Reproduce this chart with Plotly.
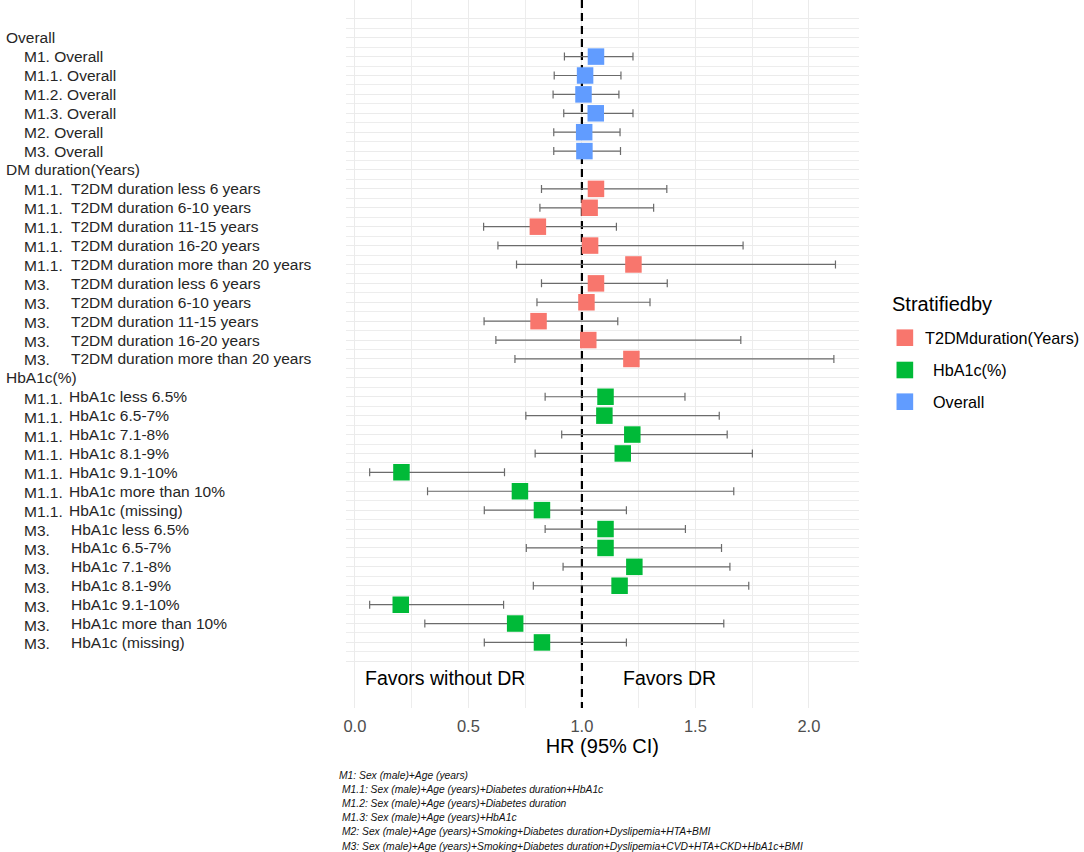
import plotly.graph_objects as go

W, H = 1084, 852

# ---------------- data ----------------
group_headers = ["Overall", "DM duration(Years)", "HbA1c(%)"]

overall_models = ["M1.", "M1.1.", "M1.2.", "M1.3.", "M2.", "M3."]
overall_names = ["Overall"] * 6
overall_hr = [1.062, 1.014, 1.007, 1.061, 1.010, 1.011]
overall_lo = [0.923, 0.878, 0.873, 0.920, 0.876, 0.876]
overall_hi = [1.225, 1.172, 1.163, 1.225, 1.168, 1.170]

duration_models = ["M1.1."] * 5 + ["M3."] * 5
duration_names = ["T2DM duration less 6 years", "T2DM duration 6-10 years",
                  "T2DM duration 11-15 years", "T2DM duration 16-20 years",
                  "T2DM duration more than 20 years"] * 2
duration_hr = [1.062, 1.034, 0.806, 1.036, 1.227, 1.062, 1.020, 0.809, 1.028, 1.218]
duration_lo = [0.822, 0.815, 0.567, 0.630, 0.712, 0.822, 0.802, 0.569, 0.621, 0.705]
duration_hi = [1.374, 1.316, 1.152, 1.710, 2.117, 1.376, 1.300, 1.158, 1.700, 2.110]

hba1c_models = ["M1.1."] * 7 + ["M3."] * 7
hba1c_names = ["HbA1c less 6.5%", "HbA1c 6.5-7%", "HbA1c 7.1-8%", "HbA1c 8.1-9%",
               "HbA1c 9.1-10%", "HbA1c more than 10%", "HbA1c (missing)"] * 2
hba1c_hr = [1.104, 1.099, 1.222, 1.180, 0.205, 0.727, 0.824,
            1.104, 1.104, 1.231, 1.166, 0.202, 0.706, 0.824]
hba1c_lo = [0.838, 0.753, 0.911, 0.794, 0.065, 0.320, 0.570,
            0.838, 0.755, 0.917, 0.786, 0.065, 0.308, 0.570]
hba1c_hi = [1.454, 1.605, 1.640, 1.751, 0.659, 1.669, 1.196,
            1.456, 1.615, 1.652, 1.735, 0.655, 1.625, 1.196]

reference_hr = 1.0
legend_names = ["T2DMduration(Years)", "HbA1c(%)", "Overall"]
legend_title = "Stratifiedby"
x_tickvals = [0.0, 0.5, 1.0, 1.5, 2.0]
x_ticktext = ["0.0", "0.5", "1.0", "1.5", "2.0"]
x_title = "HR (95% CI)"
favor_left = "Favors without DR"
favor_right = "Favors DR"
footnotes = [
    "M1: Sex (male)+Age (years)",
    "M1.1: Sex (male)+Age (years)+Diabetes duration+HbA1c",
    "M1.2: Sex (male)+Age (years)+Diabetes duration",
    "M1.3: Sex (male)+Age (years)+HbA1c",
    "M2: Sex (male)+Age (years)+Smoking+Diabetes duration+Dyslipemia+HTA+BMI",
    "M3: Sex (male)+Age (years)+Smoking+Diabetes duration+Dyslipemia+CVD+HTA+CKD+HbA1c+BMI",
]

# ---------------- styles ----------------
COL_DUR = "#F8766D"
COL_HBA = "#00BA38"
COL_OVR = "#619CFF"
FONT = "Liberation Sans, Arial, sans-serif"
LABEL_COL = "#262626"

# row layout (0 = top)
hdr_rows = [0, 1 + len(overall_hr), 2 + len(overall_hr) + len(duration_hr)]
overall_rows = [hdr_rows[0] + 1 + i for i in range(len(overall_hr))]
duration_rows = [hdr_rows[1] + 1 + i for i in range(len(duration_hr))]
hba1c_rows = [hdr_rows[2] + 1 + i for i in range(len(hba1c_hr))]
last_row = hba1c_rows[-1]

# pixel geometry
PX_L, PX_R, PX_T, PX_B = 344, 858, 0, 708
row_top = -1.995
row_bot = 35.47


def px(x):
    return x / W


def py(y):
    return 1 - y / H


fig = go.Figure()

# dashed reference line (drawn first: above the grid, below the squares)
fig.add_trace(go.Scatter(
    x=[reference_hr, reference_hr], y=[row_top, row_bot], mode="lines",
    line=dict(color="black", width=2.2, dash="8px,5px"),
    showlegend=False, hoverinfo="skip",
))


def add_group(hr, lo, hi, rows, color):
    fig.add_trace(go.Scatter(
        x=hr, y=rows, mode="markers",
        marker=dict(symbol="square", size=16.5, color=color, line=dict(width=0)),
        error_x=dict(type="data", symmetric=False,
                     array=[h - m for h, m in zip(hi, hr)],
                     arrayminus=[m - l for m, l in zip(hr, lo)],
                     color="#6b6b6b", thickness=1.2, width=4),
        showlegend=False, hoverinfo="x+y",
    ))


add_group(overall_hr, overall_lo, overall_hi, overall_rows, COL_OVR)
add_group(duration_hr, duration_lo, duration_hi, duration_rows, COL_DUR)
add_group(hba1c_hr, hba1c_lo, hba1c_hi, hba1c_rows, COL_HBA)

# axes
fig.update_xaxes(
    domain=[px(PX_L), px(PX_R)], range=[-0.039, 2.219],
    tickmode="array", tickvals=x_tickvals, ticktext=x_ticktext,
    tickfont=dict(family=FONT, size=16.5, color="#4D4D4D"),
    showgrid=True, gridcolor="#EBEBEB", gridwidth=1.3,
    minor=dict(tickmode="array", tickvals=[0.25, 0.75, 1.25, 1.75],
               showgrid=True, gridcolor="#EDEDED", gridwidth=1.1, ticklen=0),
    zeroline=False, showline=False, ticks="", ticklabelstandoff=6,
    title=dict(text=x_title, font=dict(family=FONT, size=20, color="black"), standoff=4),
)
fig.update_yaxes(
    domain=[py(PX_B), py(PX_T)], range=[row_bot, row_top],
    tickmode="array", tickvals=list(range(-1, last_row + 2)),
    showticklabels=False,
    showgrid=True, gridcolor="#EBEBEB", gridwidth=1.3,
    minor=dict(tickmode="array", tickvals=[r + 0.5 for r in range(-1, last_row + 1)],
               showgrid=True, gridcolor="#EDEDED", gridwidth=1.1, ticklen=0),
    zeroline=False, showline=False, ticks="",
)

shapes = []
# small gap in the lowest gridline, as in the reference
shapes.append(dict(type="line", xref="x", yref="y", x0=1.722, x1=2.148,
                   y0=last_row + 1, y1=last_row + 1,
                   line=dict(color="white", width=2), layer="below"))

annotations = []


def label(x_px, row, text, yshift=0):
    annotations.append(dict(xref="paper", yref="y", x=px(x_px), y=row, text=text,
                            xanchor="left", yanchor="middle", showarrow=False,
                            yshift=yshift,
                            font=dict(family=FONT, size=15.5, color=LABEL_COL)))


for r, t in zip(hdr_rows, group_headers):
    label(1, r, t)
for r, m, n in zip(overall_rows, overall_models, overall_names):
    label(19, r, f"{m} {n}")
for r, m, n in zip(duration_rows, duration_models, duration_names):
    label(19, r, m, yshift=-1)
    label(66, r, n)
for r, m, n in zip(hba1c_rows, hba1c_models, hba1c_names):
    label(19, r, m, yshift=-1.5)
    label(64 if m == "M1.1." else 66, r, n)

# favour texts
for x_px, t in [(361.5, favor_left), (620, favor_right)]:
    annotations.append(dict(xref="paper", yref="paper", x=px(x_px), y=py(678), text=t,
                            xanchor="left", yanchor="middle", showarrow=False,
                            font=dict(family=FONT, size=19.5, color="black")))

# legend (manual)
annotations.append(dict(xref="paper", yref="paper", x=px(889), y=py(304), text=legend_title,
                        xanchor="left", yanchor="middle", showarrow=False,
                        font=dict(family=FONT, size=20, color="black")))
leg_y = [337.7, 370.0, 401.7]
leg_txt_x = [923, 931, 931]
for name, col, yc, tx in zip(legend_names, [COL_DUR, COL_HBA, COL_OVR], leg_y, leg_txt_x):
    shapes.append(dict(type="rect", xref="paper", yref="paper",
                       x0=px(896), x1=px(912.7), y0=py(yc + 8.3), y1=py(yc - 8.3),
                       fillcolor=col, line=dict(width=0), layer="above"))
    annotations.append(dict(xref="paper", yref="paper", x=px(tx), y=py(yc), text=name,
                            xanchor="left", yanchor="middle", showarrow=False,
                            font=dict(family=FONT, size=16.2, color="black")))

# footnotes
foot_y = [775, 789.3, 803.3, 817.3, 831.7, 846]
for i, (t, yy) in enumerate(zip(footnotes, foot_y)):
    annotations.append(dict(xref="paper", yref="paper", x=px(335 if i == 0 else 338.3), y=py(yy),
                            text=f"<i>{t}</i>", xanchor="left", yanchor="middle",
                            showarrow=False,
                            font=dict(family=FONT, size=10.3, color="#111111")))

fig.update_layout(
    width=W, height=H, margin=dict(l=0, r=0, t=0, b=0, pad=0),
    paper_bgcolor="white", plot_bgcolor="white",
    showlegend=False, shapes=shapes, annotations=annotations,
    font=dict(family=FONT),
)

fig.write_html("out.html", config={"displayModeBar": False},
               post_script="document.body.style.margin='0';document.body.style.padding='0';")
